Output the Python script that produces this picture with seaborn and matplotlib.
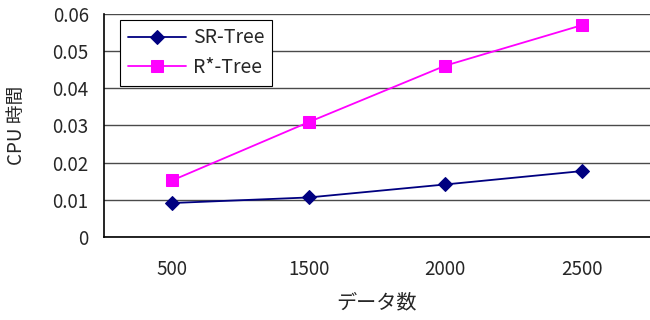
import pandas as pd
import seaborn as sns
import matplotlib.pyplot as plt

# データ
data_sizes = ['500', '1500', '2000', '2500']
sr_tree = [0.0091, 0.0106, 0.0141, 0.0177]
rstar_tree = [0.0152, 0.0309, 0.0461, 0.0570]

df = pd.DataFrame({'データ数': data_sizes, 'SR-Tree': sr_tree, 'R*-Tree': rstar_tree})

sns.set_style('white')
plt.rcParams['font.family'] = ['Noto Sans CJK JP', 'DejaVu Sans']

fig, ax = plt.subplots(figsize=(6.5, 3.2), dpi=100)
fig.subplots_adjust(left=0.16, right=1.0, top=0.956, bottom=0.26)

sns.lineplot(ax=ax, data=df, x='データ数', y='SR-Tree', color='#000080',
             marker='D', markersize=7.5, linewidth=1.3, label='SR-Tree',
             markeredgecolor='#000080')
sns.lineplot(ax=ax, data=df, x='データ数', y='R*-Tree', color='#ff00ff',
             marker='s', markersize=8, linewidth=1.3, label='R*-Tree',
             markeredgecolor='#ff00ff')

ax.set_ylim(0, 0.06)
ax.set_xlim(-0.5, 3.5)
ax.set_yticks([0, 0.01, 0.02, 0.03, 0.04, 0.05, 0.06])
ax.set_yticklabels(['0', '0.01', '0.02', '0.03', '0.04', '0.05', '0.06'])
ax.yaxis.grid(True, color='#4a4a4a', linewidth=1.0)
ax.set_axisbelow(True)

# 目盛りはカテゴリの境界に
ax.set_xticks([0.5, 1.5, 2.5], minor=True)
ax.tick_params(axis='x', which='major', length=0, pad=16, labelsize=13.5)
ax.tick_params(axis='x', which='minor', direction='in', length=5, width=1, color='black')
ax.tick_params(axis='y', length=0, pad=11, labelsize=13.5)

for s in ['top', 'right']:
    ax.spines[s].set_visible(False)
for s in ['left', 'bottom']:
    ax.spines[s].set_color('black')
    ax.spines[s].set_linewidth(1.2)

ax.set_xlabel('データ数', fontsize=14.5, labelpad=9)
ax.set_ylabel('CPU 時間', fontsize=13.5, labelpad=18)

leg = ax.legend(loc='upper left', bbox_to_anchor=(0.029, 0.975), borderaxespad=0,
                fontsize=14, frameon=True, fancybox=False, edgecolor='black',
                framealpha=1, handlelength=3.0, handletextpad=0.35,
                borderpad=0.4, labelspacing=0.45)
leg.get_frame().set_linewidth(0.8)

plt.savefig('out.png', dpi=100)
